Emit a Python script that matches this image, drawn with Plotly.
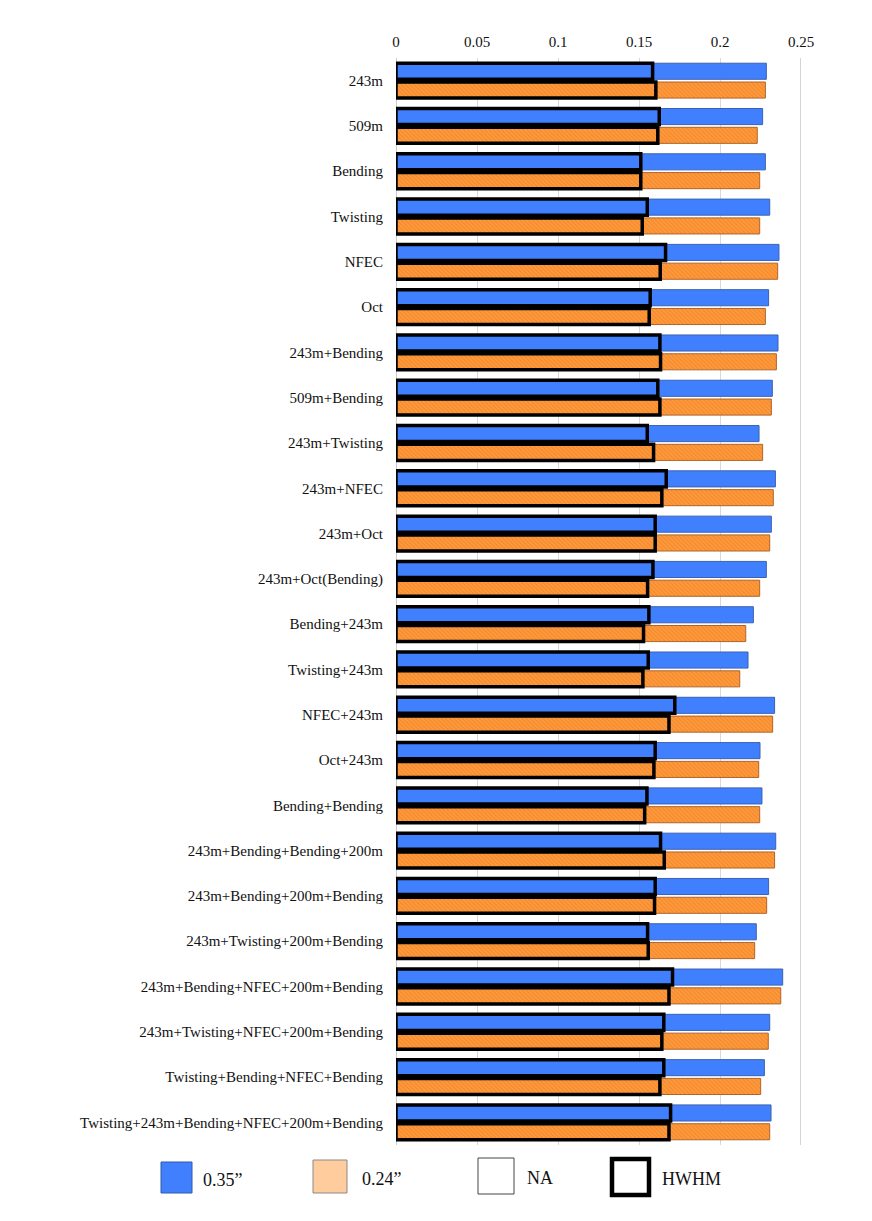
import plotly.graph_objects as go

# categories, top to bottom
categories = [
    "243m", "509m", "Bending", "Twisting", "NFEC", "Oct",
    "243m+Bending", "509m+Bending", "243m+Twisting", "243m+NFEC", "243m+Oct",
    "243m+Oct(Bending)", "Bending+243m", "Twisting+243m", "NFEC+243m", "Oct+243m",
    "Bending+Bending", "243m+Bending+Bending+200m", "243m+Bending+200m+Bending",
    "243m+Twisting+200m+Bending", "243m+Bending+NFEC+200m+Bending",
    "243m+Twisting+NFEC+200m+Bending", "Twisting+Bending+NFEC+Bending",
    "Twisting+243m+Bending+NFEC+200m+Bending",
]

# full bar length per slit width
val_035 = [0.2286, 0.2263, 0.2280, 0.2307, 0.2364, 0.2300,
           0.2358, 0.2323, 0.2241, 0.2342, 0.2317, 0.2286,
           0.2206, 0.2173, 0.2337, 0.2247, 0.2259, 0.2344,
           0.2300, 0.2224, 0.2387, 0.2307, 0.2274, 0.2315]
val_024 = [0.2280, 0.2230, 0.2245, 0.2245, 0.2356, 0.2280,
           0.2348, 0.2317, 0.2263, 0.2329, 0.2307, 0.2245,
           0.2159, 0.2122, 0.2325, 0.2239, 0.2245, 0.2337,
           0.2288, 0.2214, 0.2375, 0.2298, 0.2251, 0.2307]

# HWHM (outlined overlay)
hwhm_035 = [0.1584, 0.1625, 0.1511, 0.1551, 0.1664, 0.1569,
            0.1629, 0.1616, 0.1551, 0.1668, 0.1600, 0.1586,
            0.1561, 0.1557, 0.1721, 0.1600, 0.1549, 0.1633,
            0.1600, 0.1553, 0.1707, 0.1653, 0.1653, 0.1695]
hwhm_024 = [0.1604, 0.1616, 0.1511, 0.1520, 0.1631, 0.1563,
            0.1633, 0.1629, 0.1590, 0.1641, 0.1600, 0.1553,
            0.1528, 0.1524, 0.1685, 0.1592, 0.1535, 0.1656,
            0.1596, 0.1557, 0.1685, 0.1641, 0.1629, 0.1685]

FONT = "Liberation Serif, Times New Roman, serif"
BLUE = "#4080ff"
ORANGE = "#ff9a3c"

# plot area in page pixels; the page body adds an 8px offset
OFF = 8
L, R, T, B = 396, 801, 58, 1145
W, H = 872, 1221

def px_x(x):
    return (x - L) / (R - L)

def px_y(y):
    return (B - y) / (B - T)

fig = go.Figure()

off_top, off_bot, bw = -0.385, 0.03, 0.355

fig.add_trace(go.Bar(
    y=categories, x=val_035, orientation="h", name='0.35"',
    offset=off_top, width=bw,
    marker=dict(color=BLUE, line=dict(color="#3a62b0", width=1)),
    showlegend=False))
fig.add_trace(go.Bar(
    y=categories, x=val_024, orientation="h", name='0.24"',
    offset=off_bot, width=bw,
    marker=dict(color=ORANGE, line=dict(color="#b0642a", width=1),
                pattern=dict(shape="\\", fgcolor="#e0741c", bgcolor=ORANGE,
                             size=3, solidity=0.35)),
    showlegend=False))
for vals, off in [(hwhm_035, off_top), (hwhm_024, off_bot)]:
    fig.add_trace(go.Bar(
        y=categories, x=vals, orientation="h", name="HWHM",
        offset=off, width=bw,
        marker=dict(color="rgba(0,0,0,0)", line=dict(color="black", width=3.5)),
        showlegend=False))

# right edge line at 0.25
fig.add_shape(type="line", xref="x", yref="paper", x0=0.25, x1=0.25, y0=0, y1=1,
              line=dict(color="#d4d4d4", width=2), layer="below")

# legend drawn by hand (large swatches)
legend = [
    (161, 192, 1162, 1193, BLUE, "#2e5aa8", 1, 201, '0.35”'),
    (313, 347, 1160, 1193, "#ffcc9e", "#8a8a8a", 1, 360, '0.24”'),
    (478, 514, 1158, 1194, "white", "#444444", 1, 525, "NA"),
    (612, 649, 1159, 1195, "white", "black", 4.5, 660, "HWHM"),
]
for x0, x1, y0, y1, fill, edge, lw, tx, label in legend:
    fig.add_shape(type="rect", xref="paper", yref="paper",
                  x0=px_x(x0), x1=px_x(x1), y0=px_y(y1), y1=px_y(y0),
                  fillcolor=fill, line=dict(color=edge, width=lw))
    fig.add_annotation(xref="paper", yref="paper", x=px_x(tx), y=px_y((y0 + y1) / 2 + 2),
                       text=label, showarrow=False, xanchor="left", yanchor="middle",
                       font=dict(family=FONT, size=18, color="#111"))

fig.update_layout(
    width=W, height=H,
    margin=dict(l=L - OFF, r=W + OFF - R, t=T - OFF, b=H + OFF - B),
    barmode="overlay",
    plot_bgcolor="white", paper_bgcolor="white",
    font=dict(family=FONT, size=15, color="#111"),
    showlegend=False,
)
fig.update_xaxes(
    side="top", range=[0, 0.25], tickvals=[0, 0.05, 0.1, 0.15, 0.2, 0.25],
    ticktext=["0", "0.05", "0.1", "0.15", "0.2", "0.25"],
    showgrid=True, gridcolor="#d9d9d9", gridwidth=1,
    zeroline=True, zerolinecolor="#cccccc", zerolinewidth=1,
    showline=False, ticks="", ticklabelstandoff=7,
    tickfont=dict(family=FONT, size=15, color="#111"),
)
fig.update_yaxes(
    autorange="reversed", showgrid=False, zeroline=False, showline=False,
    ticks="", ticklabelstandoff=12,
    tickfont=dict(family=FONT, size=15, color="#111"),
)

fig.write_html("out.html")
